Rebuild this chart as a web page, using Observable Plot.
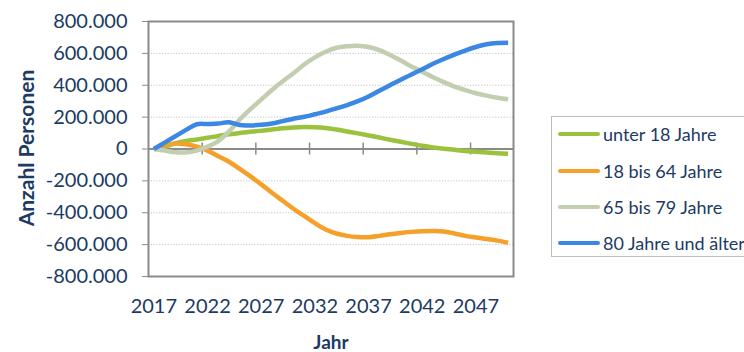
<!DOCTYPE html>
<html>
<head>
<meta charset="utf-8">
<script src="https://cdn.jsdelivr.net/npm/d3@7"></script>
<script src="https://cdn.jsdelivr.net/npm/@observablehq/plot@0.6"></script>
<style>
  html, body { margin: 0; padding: 0; background: #ffffff; overflow: hidden; }
  #wrap { position: relative; width: 744px; height: 352px; overflow: hidden; font-family: Lato, "Open Sans", sans-serif; color: #1c3a63; }
  #chart svg { display: block; }
  .ytitle { position: absolute; left: 25px; top: 148px; transform: translate(-50%, -50%) rotate(-90deg); font-weight: bold; font-size: 21px; white-space: nowrap; }
  .xtitle { position: absolute; left: 331px; top: 332px; transform: translateX(-50%); font-weight: bold; font-size: 19px; line-height: 20px; white-space: nowrap; }
  .legend { position: absolute; left: 551px; top: 116px; width: 230px; height: 141px; border: 1.5px solid #bdbdbd; box-sizing: border-box; }
  .legend .row { position: absolute; left: 6px; height: 24px; display: flex; align-items: center; white-space: nowrap; font-size: 18px; }
  .legend .sw { width: 42px; height: 4.5px; border-radius: 2px; margin-right: 3px; }
</style>
</head>
<body>
<div id="wrap">
  <div id="chart"></div>
  <div class="ytitle">Anzahl Personen</div>
  <div class="xtitle">Jahr</div>
  <div class="legend" id="legend"></div>
</div>
<script>
// ---- data ----
const years = d3.range(2017, 2051);
const seriesNames = ["unter 18 Jahre", "18 bis 64 Jahre", "65 bis 79 Jahre", "80 Jahre und älter"];
const seriesColors = ["#9bc23c", "#f5a02a", "#c3ceb0", "#3b87e4"];

const unter18 = [0, 15000, 35000, 50000, 60000, 70000, 82000, 92000, 100000, 108000,
  115000, 122000, 130000, 135000, 138000, 137000, 132000, 122000, 110000, 98000,
  85000, 72000, 58000, 45000, 32000, 20000, 10000, 2000, -5000, -12000,
  -17000, -22000, -26000, -30000];
const von18bis64 = [0, 25000, 35000, 30000, 15000, -10000, -45000, -80000, -125000, -172000,
  -222000, -275000, -325000, -375000, -420000, -465000, -505000, -530000, -545000, -552000,
  -553000, -545000, -535000, -527000, -520000, -516000, -515000, -517000, -530000, -545000,
  -555000, -565000, -575000, -588000];
const von65bis79 = [0, -10000, -20000, -22000, -10000, 15000, 50000, 110000, 185000, 250000,
  310000, 370000, 425000, 475000, 530000, 575000, 610000, 635000, 645000, 648000,
  640000, 620000, 590000, 555000, 518000, 485000, 450000, 420000, 392000, 370000,
  350000, 335000, 322000, 312000];
const ab80 = [0, 40000, 80000, 120000, 155000, 157000, 160000, 168000, 150000, 148000,
  152000, 160000, 175000, 190000, 202000, 218000, 235000, 255000, 275000, 300000,
  330000, 365000, 400000, 435000, 468000, 500000, 535000, 565000, 592000, 618000,
  640000, 657000, 665000, 667000];

const yTicks = [-800000, -600000, -400000, -200000, 0, 200000, 400000, 600000, 800000];
const gridValues = [-600000, -400000, -200000, 200000, 400000, 600000];
const xTickLabels = [2017, 2022, 2027, 2032, 2037, 2042, 2047];
const categoryBoundaries = [2021.5, 2026.5, 2031.5, 2036.5, 2041.5, 2046.5];

// ---- table ----
const allSeries = [unter18, von18bis64, von65bis79, ab80];
const rows = [];
allSeries.forEach((vals, si) => {
  vals.forEach((v, i) => rows.push({year: years[i], value: v, series: seriesNames[si]}));
});

const de = d3.formatLocale({decimal: ",", thousands: ".", grouping: [3], currency: ["", " €"], minus: "-"});
const fmt = de.format(",");

const navy = "#1c3a63";
const axisGray = "#8a8a8a";

const chart = Plot.plot({
  width: 744,
  height: 352,
  marginLeft: 148,
  marginRight: 231,
  marginTop: 21,
  marginBottom: 76,
  style: {fontFamily: "Lato, 'Open Sans', sans-serif", color: navy, background: "transparent"},
  x: {domain: [years[0] - 0.5, years[years.length - 1] + 0.5]},
  y: {domain: [-800000, 800000]},
  color: {domain: seriesNames, range: seriesColors},
  marks: [
    Plot.ruleY(gridValues, {stroke: "#c4c4c4", strokeWidth: 1, strokeDasharray: "1.2,1.6"}),
    Plot.ruleY([0], {stroke: axisGray, strokeWidth: 2}),
    Plot.ruleX(categoryBoundaries, {y1: 0, y2: 0, insetTop: -6, insetBottom: -6, stroke: axisGray, strokeWidth: 1.5}),
    Plot.frame({stroke: axisGray, strokeWidth: 2}),
    Plot.axisY({ticks: yTicks, tickFormat: fmt, tickSize: 6, tickPadding: 15, fontSize: 20, label: null, stroke: axisGray, fill: navy}),
    Plot.axisX({ticks: xTickLabels, tickFormat: d => String(d), tickSize: 0, tickPadding: 22, fontSize: 20, label: null, fill: navy}),
    Plot.line(rows, {x: "year", y: "value", z: "series", stroke: "series", strokeWidth: 4.5, curve: "catmull-rom", strokeLinejoin: "round", strokeLinecap: "butt"})
  ]
});
document.getElementById("chart").appendChild(chart);

// ---- legend ----
const legend = document.getElementById("legend");
const rowCenters = [17, 54, 90, 126];
seriesNames.forEach((name, i) => {
  const r = document.createElement("div");
  r.className = "row";
  r.style.top = (rowCenters[i] - 12) + "px";
  const sw = document.createElement("div");
  sw.className = "sw";
  sw.style.background = seriesColors[i];
  const t = document.createElement("span");
  t.textContent = name;
  r.appendChild(sw);
  r.appendChild(t);
  legend.appendChild(r);
});
</script>
</body>
</html>
